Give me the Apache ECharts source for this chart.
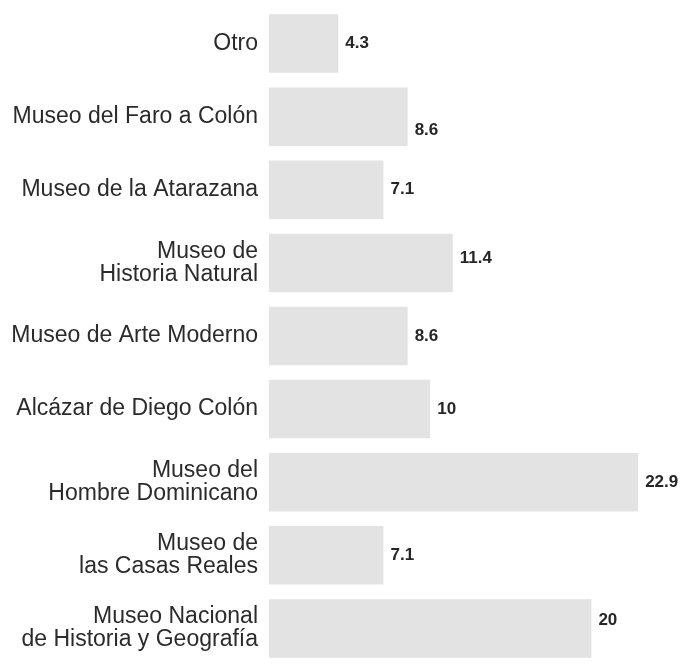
<!DOCTYPE html>
<html>
<head>
<meta charset="utf-8">
<script src="https://cdn.jsdelivr.net/npm/echarts@6/dist/echarts.min.js"></script>
<style>
  html, body { margin: 0; padding: 0; background: #fff; }
  #chart { width: 683px; height: 665px; }
</style>
</head>
<body>
<div id="chart"></div>
<script>
const museos = [
  'Otro',
  'Museo del Faro a Colón',
  'Museo de la Atarazana',
  'Museo de\nHistoria Natural',
  'Museo de Arte Moderno',
  'Alcázar de Diego Colón',
  'Museo del\nHombre Dominicano',
  'Museo de\nlas Casas Reales',
  'Museo Nacional\nde Historia y Geografía'
]
const porcentajes = [4.3, 8.6, 7.1, 11.4, 8.6, 10, 22.9, 7.1, 20]

// small vertical nudges for a few value labels, as in the print
const labelNudge = { 1: 14, 3: -5, 8: -8 }

const chart = echarts.init(document.getElementById('chart'))

const option = {
  animation: false,
  grid: {
    left: 269,
    top: 7,
    height: 670,
    width: 403
  },
  xAxis: {
    type: 'value',
    min: 0,
    max: 25,
    show: false
  },
  yAxis: {
    type: 'category',
    data: museos,
    inverse: true,
    axisLine: { show: false },
    axisTick: { show: false },
    axisLabel: {
      margin: 11,
      fontFamily: 'Liberation Sans, Arial, sans-serif',
      fontSize: 23,
      lineHeight: 23,
      color: '#2b2b2b',
      align: 'right'
    }
  },
  series: [{
    type: 'bar',
    data: porcentajes.map((v, i) => ({
      value: v,
      label: labelNudge[i] ? { offset: [0, labelNudge[i]] } : undefined
    })),
    barCategoryGap: '20%',
    itemStyle: { color: '#e3e3e3' },
    label: {
      show: true,
      position: 'right',
      distance: 7,
      fontFamily: 'Liberation Sans, Arial, sans-serif',
      fontWeight: 'bold',
      fontSize: 17,
      color: '#262626'
    }
  }]
}

chart.setOption(option)
</script>
</body>
</html>
